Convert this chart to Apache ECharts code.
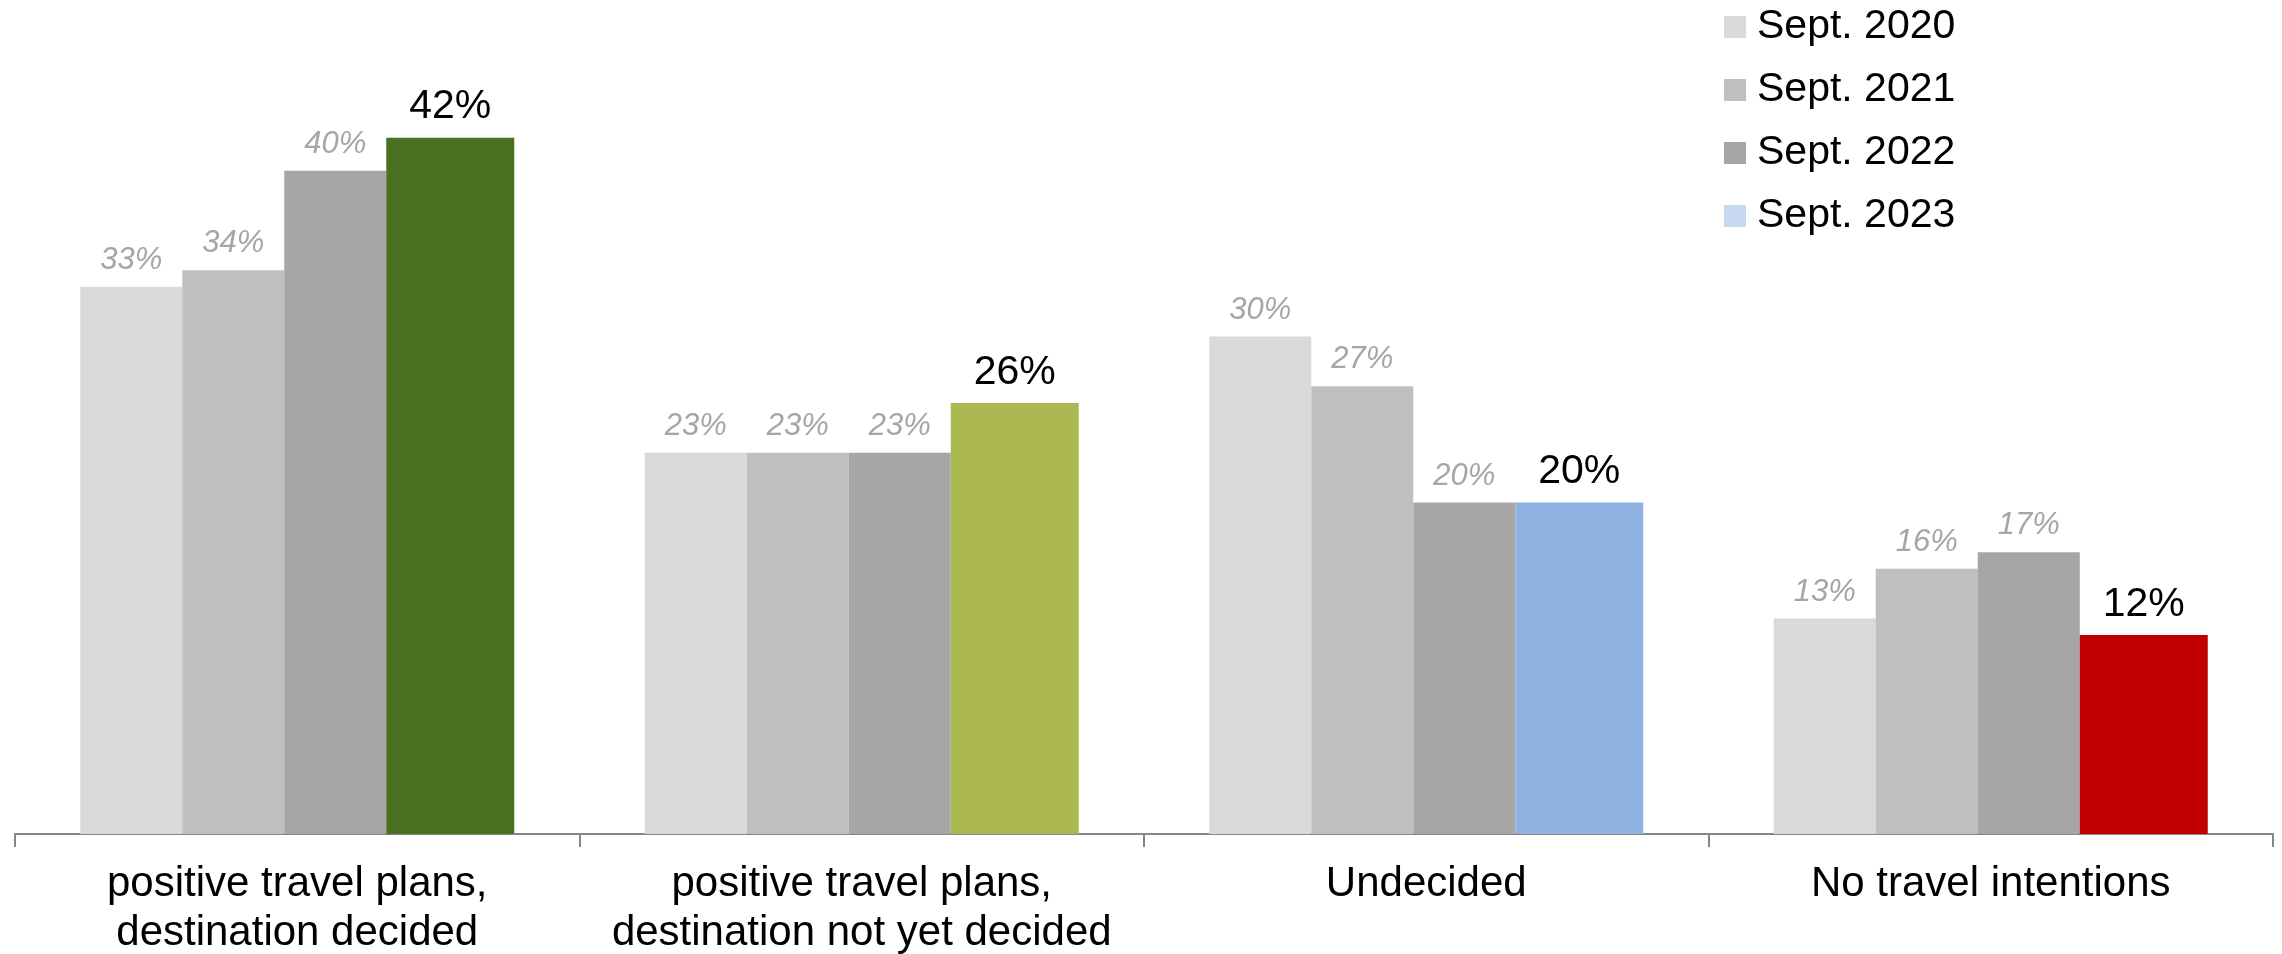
<!DOCTYPE html>
<html>
<head>
<meta charset="utf-8">
<style>
  html, body { margin: 0; padding: 0; background: #ffffff; }
  #chart { width: 2282px; height: 954px; }
</style>
<script src="https://cdn.jsdelivr.net/npm/echarts@6/dist/echarts.min.js"></script>
</head>
<body>
<div id="chart"></div>
<script>
// Travel intentions survey, share of respondents per wave
const categories = [
  'positive travel plans,\ndestination decided',
  'positive travel plans,\ndestination not yet decided',
  'Undecided',
  'No travel intentions'
];
const waves = ['Sept. 2020', 'Sept. 2021', 'Sept. 2022', 'Sept. 2023'];
const sept2020 = [33, 23, 30, 13];
const sept2021 = [34, 23, 27, 16];
const sept2022 = [40, 23, 20, 17];
const sept2023 = [42, 26, 20, 12];

const waveColors = ['#d9d9d9', '#bfbfbf', '#a6a6a6', '#c6d9f1'];
const latestColors = ['#4a7020', '#abb852', '#8eb3e1', '#c00000'];

const FONT = '"Liberation Sans", Arial, sans-serif';

const pastLabel = {
  show: true,
  position: 'top',
  distance: 11,
  formatter: '{c}%',
  color: '#a6a6a6',
  fontStyle: 'italic',
  fontSize: 31,
  fontFamily: FONT
};

function pastSeries(name, values, color) {
  return {
    name: name,
    type: 'bar',
    data: values,
    barWidth: 102,
    barGap: '0%',
    itemStyle: { color: color },
    label: pastLabel
  };
}

const option = {
  animation: false,
  backgroundColor: '#ffffff',
  textStyle: { fontFamily: FONT },
  legend: {
    orient: 'vertical',
    left: 1724,
    top: 5,
    padding: 0,
    itemWidth: 22,
    itemHeight: 22,
    itemGap: 19,
    icon: 'rect',
    textStyle: { fontSize: 41, color: '#000000', fontFamily: FONT, lineHeight: 44, padding: [0, 0, 0, 6] },
    data: waves.map((w, i) => ({ name: w, itemStyle: { color: waveColors[i] } }))
  },
  grid: { left: 15, right: 9, top: 5, bottom: 120, containLabel: false, outerBoundsMode: 'none' },
  xAxis: {
    type: 'category',
    data: categories,
    axisLine: { show: true, lineStyle: { color: '#868686', width: 2 } },
    axisTick: { show: true, interval: 0, length: 13, lineStyle: { color: '#868686', width: 2 } },
    axisLabel: {
      interval: 0,
      margin: 26,
      color: '#000000',
      fontSize: 42,
      lineHeight: 49,
      fontFamily: FONT
    }
  },
  yAxis: {
    type: 'value',
    min: 0,
    max: 50,
    show: false,
    splitLine: { show: false }
  },
  series: [
    pastSeries(waves[0], sept2020, waveColors[0]),
    pastSeries(waves[1], sept2021, waveColors[1]),
    pastSeries(waves[2], sept2022, waveColors[2]),
    {
      name: waves[3],
      type: 'bar',
      barWidth: 128,
      barGap: '0%',
      itemStyle: { color: waveColors[3] },
      data: sept2023.map((v, i) => ({ value: v, itemStyle: { color: latestColors[i] } })),
      label: {
        show: true,
        position: 'top',
        distance: 10,
        formatter: '{c}%',
        color: '#000000',
        fontSize: 41,
        fontFamily: FONT
      }
    }
  ]
};

const chart = echarts.init(document.getElementById('chart'), null, { renderer: 'canvas' });
chart.setOption(option);
</script>
</body>
</html>
